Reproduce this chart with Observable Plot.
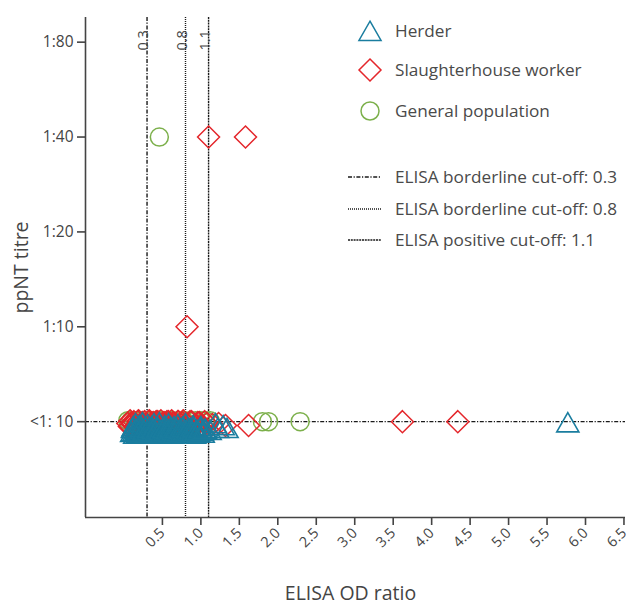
<!DOCTYPE html>
<html><head><meta charset="utf-8">
<script src="https://cdn.jsdelivr.net/npm/d3@7"></script>
<script src="https://cdn.jsdelivr.net/npm/@observablehq/plot@0.6"></script>
<style>
body{margin:0;background:#fff;font-family:"Open Sans",sans-serif;}
#wrap{position:relative;width:629px;height:605px;}
#legend{position:absolute;left:0;top:0;}
</style></head><body><div id="wrap"></div>
<script>
// y positions are titre levels: 0 = <1:10, 1 = 1:10, 2 = 1:20, 3 = 1:40, 4 = 1:80
// (fractional offsets around 0 reproduce the vertical spread of the <1:10 cluster)
const titreLevels = [0, 1, 2, 3, 4];
const titreLabels = ["<1: 10", "1:10", "1:20", "1:40", "1:80"];
const xTicks = [0.5, 1.0, 1.5, 2.0, 2.5, 3.0, 3.5, 4.0, 4.5, 5.0, 5.5, 6.0, 6.5];
const cutoffs = [0.3, 0.8, 1.1];
const cutoffNames = ["ELISA borderline cut-off: 0.3", "ELISA borderline cut-off: 0.8", "ELISA positive cut-off: 1.1"];
const seriesNames = ["Herder", "Slaughterhouse worker", "General population"];

const herderOD = [
  0.10,0.12,0.14,0.15,0.17,0.18,0.20,0.21,0.22,0.24,
  0.25,0.27,0.28,0.30,0.31,0.33,0.34,0.36,0.37,0.39,
  0.40,0.42,0.43,0.45,0.46,0.48,0.50,0.51,0.53,0.55,
  0.56,0.58,0.60,0.62,0.63,0.65,0.67,0.69,0.70,0.72,
  0.74,0.76,0.78,0.80,0.82,0.84,0.86,0.88,0.90,0.92,
  0.95,0.97,1.00,1.03,1.06,1.12,1.19,1.22,1.29,1.34,
  0.11,0.13,0.16,0.19,0.23,0.26,0.29,0.32,0.35,0.38,
  0.41,0.44,0.47,0.49,0.52,0.54,0.57,0.59,0.61,0.64,
  0.66,0.68,0.71,0.73,0.75,0.77,0.79,0.81,0.83,0.85,
  0.87,0.89,0.91,0.94,0.96,0.99,1.02,1.05,
  5.77];
const herderTitre = [
  -0.14,-0.08,-0.16,-0.05,-0.12,-0.15,-0.07,-0.13,-0.16,-0.04,
  -0.11,-0.15,-0.09,-0.16,-0.06,-0.13,-0.15,-0.08,-0.16,-0.05,
  -0.12,-0.16,-0.09,-0.14,-0.04,-0.16,-0.11,-0.15,-0.07,-0.16,
  -0.13,-0.05,-0.15,-0.10,-0.16,-0.08,-0.14,-0.16,-0.06,-0.12,
  -0.15,-0.09,-0.16,-0.05,-0.13,-0.16,-0.10,-0.15,-0.07,-0.16,
  -0.12,-0.14,-0.08,-0.15,-0.11,-0.12,-0.05,-0.10,-0.07,-0.10,
  -0.10,-0.13,-0.11,-0.14,-0.09,-0.12,-0.15,-0.10,-0.13,-0.11,
  -0.14,-0.09,-0.12,-0.15,-0.10,-0.13,-0.11,-0.14,-0.09,-0.12,
  -0.15,-0.10,-0.13,-0.11,-0.14,-0.09,-0.12,-0.15,-0.10,-0.13,
  -0.11,-0.14,-0.09,-0.12,-0.15,-0.10,-0.13,-0.11,
  -0.04];

const slaughterOD = [
  0.05,0.08,0.11,0.13,0.16,0.19,0.22,0.25,0.27,0.30,
  0.33,0.36,0.39,0.42,0.45,0.48,0.50,0.53,0.56,0.59,
  0.62,0.65,0.68,0.71,0.74,0.77,0.80,0.84,0.88,0.93,
  0.98,1.02,1.08,1.15,1.23,1.32,1.62,3.62,4.34,
  0.07,0.10,0.15,0.18,0.21,0.24,0.29,0.32,0.35,0.38,
  0.41,0.44,0.47,0.52,0.55,0.58,0.61,0.64,0.67,0.70,
  0.73,0.76,0.79,0.86,0.91,0.96,1.00,1.05,
  0.82,1.10,1.58];
const slaughterTitre = [
  -0.02,0.01,-0.03,0.00,-0.04,0.01,-0.02,-0.04,0.00,-0.03,
  0.01,-0.02,-0.04,0.00,-0.03,0.01,-0.02,-0.04,0.00,-0.03,
  0.01,-0.02,-0.04,0.00,-0.03,0.01,-0.02,-0.04,0.00,-0.03,
  -0.01,-0.04,-0.02,-0.03,-0.02,-0.04,-0.04,0.00,0.00,
  -0.05,-0.01,-0.06,0.00,-0.05,-0.01,-0.06,0.00,-0.05,-0.01,
  -0.06,0.00,-0.05,-0.01,-0.06,0.00,-0.05,-0.01,-0.06,0.00,
  -0.05,-0.01,-0.06,0.00,-0.05,-0.01,-0.06,0.00,
  1, 3, 3];

const generalOD = [
  0.05,0.09,0.14,0.20,0.27,0.34,0.41,0.48,0.55,0.62,
  0.70,0.78,0.86,0.93,1.00,1.06,1.12,1.80,1.88,2.29,
  0.46];
const generalTitre = [
  0.01,0.01,0.01,0.01,0.01,0.01,0.01,0.01,0.01,0.01,
  0.01,0.01,0.01,0.01,0.01,0.01,0.01,0.00,0.00,0.00,
  3];

const colors = ["#1a7d9f", "#e4262b", "#7cb04b"];
const symbols = ["triangle", "diamond2", "circle"];
const dashes = ["4,1.6,1.2,1.6", "1,1", "2,0.8"];

const toRows = (od, t) => od.map((v, i) => ({od: v, titre: t[i]}));
const herder = toRows(herderOD, herderTitre);
const slaughter = toRows(slaughterOD, slaughterTitre);
const general = toRows(generalOD, generalTitre);

const chart = Plot.plot({
  width: 629, height: 605,
  marginLeft: 85, marginRight: 4, marginTop: 17, marginBottom: 88,
  style: {fontFamily: "Open Sans", color: "#444", background: "#fff", overflow: "visible"},
  x: {domain: [-0.5, 6.52]},
  y: {domain: [-1.01, 4.26]},
  marks: [
    Plot.ruleY([0], {stroke: "#1a1a1a", strokeWidth: 1.4, strokeDasharray: dashes[0]}),
    ...cutoffs.map((c, i) => Plot.ruleX([c], {stroke: "#1a1a1a", strokeWidth: 1.4, strokeDasharray: dashes[i]})),
    Plot.text(cutoffs, {x: d => d, text: d => d.toFixed(1), frameAnchor: "top", rotate: -90,
      textAnchor: "start", dy: 33, dx: -9, fontSize: 14.5, fill: "#444"}),
    Plot.dot(general, {x: "od", y: "titre", symbol: symbols[2], r: 9, stroke: colors[2], strokeWidth: 1.5, fill: "none"}),
    Plot.dot(slaughter, {x: "od", y: "titre", symbol: symbols[1], r: 9.9, stroke: colors[1], strokeWidth: 1.5, fill: "none"}),
    Plot.dot(herder, {x: "od", y: "titre", symbol: symbols[0], r: 8.2, stroke: colors[0], strokeWidth: 1.6, fill: "none"}),
    Plot.ruleX([-0.5], {stroke: "#444", strokeWidth: 1.6}),
    Plot.ruleY([-1.01], {stroke: "#444", strokeWidth: 1.6}),
    Plot.axisY({ticks: titreLevels, tickFormat: i => titreLabels[i], tickSize: 8, tickPadding: 4,
      fontSize: 15.5, label: null, strokeWidth: 1.6}),
    Plot.axisX({ticks: xTicks, tickFormat: d3.format(".1f"), tickRotate: -45, tickSize: 8,
      tickPadding: 5, fontSize: 14.5, label: null, strokeWidth: 1.6}),
    Plot.text(["ELISA OD ratio"], {text: d => d, frameAnchor: "bottom", dy: 76, dx: -5, lineAnchor: "middle",
      textAnchor: "middle", fontSize: 19.5, fill: "#444"}),
    Plot.text(["ppNT titre"], {text: d => d, frameAnchor: "left", rotate: -90, dx: -64,
      textAnchor: "middle", fontSize: 19.5, fill: "#444"})
  ]
});
const wrap = document.getElementById("wrap");
wrap.appendChild(chart);

// Legend overlay
const lg = d3.select(wrap).append("svg").attr("id", "legend")
  .attr("width", 629).attr("height", 270)
  .style("font-family", "Open Sans").style("font-size", "17.2px");
const symY = [31, 70, 111];
const symGen = [
  d3.symbol(d3.symbolTriangle, Math.PI * 8.2 * 8.2),
  d3.symbol(d3.symbolDiamond2, Math.PI * 9.9 * 9.9),
  d3.symbol(d3.symbolCircle, Math.PI * 9 * 9)
];
const symOffsetY = [3, 0, 0];
seriesNames.forEach((name, i) => {
  lg.append("path").attr("d", symGen[i]()).attr("transform", `translate(370,${symY[i] + symOffsetY[i]})`)
    .attr("fill", "none").attr("stroke", colors[i]).attr("stroke-width", 1.5);
  lg.append("text").attr("x", 395).attr("y", symY[i]).attr("dy", "0.35em").attr("fill", "#4a4a4a").text(name);
});
const lineY = [177, 209, 240];
cutoffNames.forEach((name, i) => {
  lg.append("line").attr("x1", 348).attr("x2", 381).attr("y1", lineY[i]).attr("y2", lineY[i])
    .attr("stroke", "#1a1a1a").attr("stroke-width", 1.4).attr("stroke-dasharray", dashes[i]);
  lg.append("text").attr("x", 395).attr("y", lineY[i]).attr("dy", "0.35em").attr("fill", "#4a4a4a").text(name);
});
</script></body></html>
